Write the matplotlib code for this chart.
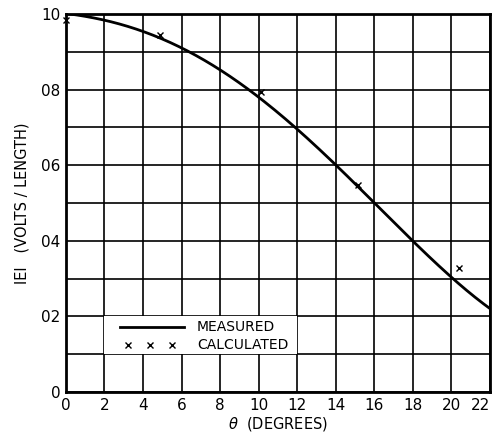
import matplotlib.pyplot as plt
import numpy as np
from matplotlib.patches import Rectangle

# Measured curve
theta_measured = [0, 2, 4, 6, 8, 10, 12, 14, 16, 18, 20, 22]
e_measured = [1.0, 0.987, 0.952, 0.91, 0.852, 0.778, 0.698, 0.598, 0.503, 0.40, 0.30, 0.222]

# Calculated points (x marks)
theta_calc = [0, 4.9, 10.1, 15.15, 20.4]
e_calc = [0.985, 0.944, 0.794, 0.548, 0.328]

x_ticks = np.arange(0, 23, 2)
y_ticks = [0, 0.2, 0.4, 0.6, 0.8, 1.0]
y_tick_labels = ["0", "02", "04", "06", "08", "10"]

plt.rcParams['font.family'] = ['DejaVu Sans']

fig = plt.figure(figsize=(4.92, 4.32), dpi=100)
ax = fig.add_axes([0.134, 0.0926, 0.862, 0.875])

# smooth line through the measured points
xs = np.linspace(0, 22, 200)
coef = np.polyfit(theta_measured, e_measured, 4)
ax.plot(xs, np.polyval(coef, xs), color="black", lw=2.0, zorder=3)
ax.plot(theta_calc, e_calc, linestyle="none", marker="x", color="black",
        ms=5, mew=1.0, zorder=4, clip_on=False)

ax.set_xlim(0, 22)
ax.set_ylim(0, 1.0)
ax.set_xticks(x_ticks)
ax.set_xticklabels([str(t) for t in x_ticks])
ax.set_yticks(y_ticks)
ax.set_yticklabels(y_tick_labels)
ax.set_yticks(np.arange(0.1, 1.0, 0.2), minor=True)
ax.grid(which="both", color="black", lw=1.2)
ax.set_axisbelow(True)
ax.tick_params(which="both", length=0, labelsize=11, pad=4)
# last tick label sits at the right edge; nudge it inward so it stays visible
ax.get_xticklabels()[-1].set_horizontalalignment("right")
for s in ax.spines.values():
    s.set_linewidth(2)

# legend box
ax.add_patch(Rectangle((2, 0.1), 10, 0.1, facecolor="white", edgecolor="none", zorder=2))
ax.plot([2.8, 6.1], [0.172, 0.172], color="black", lw=2.0, zorder=3)
ax.plot([3.2, 4.35, 5.5], [0.124, 0.124, 0.124], linestyle="none", marker="x",
        color="black", ms=4, mew=1.0, zorder=3)
ax.text(6.8, 0.172, "MEASURED", fontsize=10, va="center", zorder=3)
ax.text(6.8, 0.124, "CALCULATED", fontsize=10, va="center", zorder=3)

ax.set_xlabel(r"$\theta$  (DEGREES)", fontsize=10.5, labelpad=2)
ax.set_ylabel("IEI   (VOLTS / LENGTH)", fontsize=10.5, labelpad=8)

fig.savefig("out.png", dpi=100)
